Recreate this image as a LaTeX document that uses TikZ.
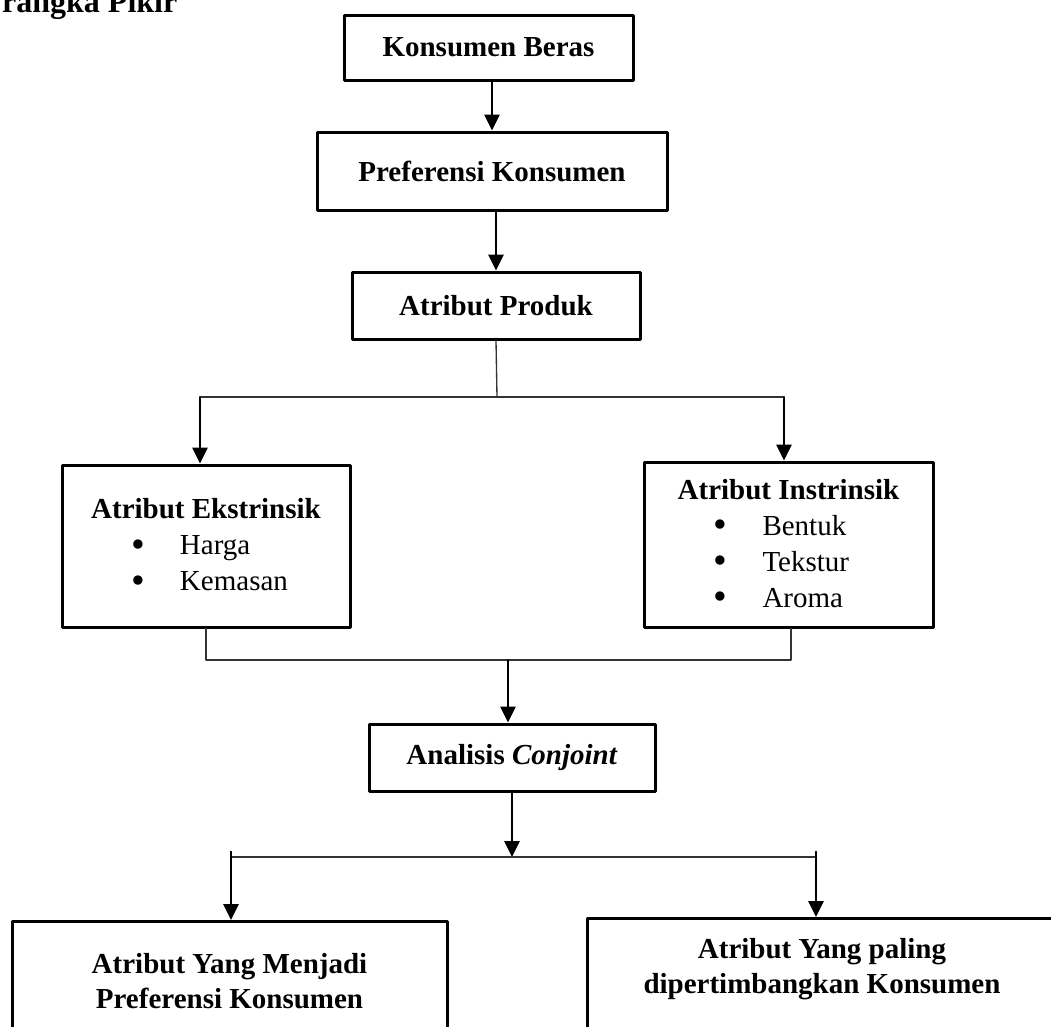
\documentclass[tikz,border=0pt]{standalone}
\usepackage{fontspec}
\setmainfont{Liberation Serif}
\usetikzlibrary{arrows.meta,calc}
\newcommand{\butir}[1]{\makebox[150pt][l]{\hspace{24pt}\makebox[0pt]{\raisebox{-2pt}{\scalebox{1.35}{\textbullet}}}\hspace{31.5pt}#1}}
\begin{document}
\begin{tikzpicture}[line cap=round,line join=round,>={Triangle[length=12pt,width=11.5pt]},x=0.75pt,y=-0.75pt,
kotak/.style={draw,line width=2.25pt,inner sep=0pt,align=center,font=\bfseries\fontsize{21.75}{27}\selectfont},
daftar/.style={draw,line width=2.25pt,inner sep=0pt,align=center,font=\fontsize{21.75}{27}\selectfont},
hasil/.style={draw,line width=2.25pt,inner sep=0pt,align=center,anchor=north,text depth=100pt,font=\bfseries\fontsize{21.75}{26.25}\selectfont},
panah/.style={->,line width=1.5pt},
garis/.style={line width=1pt,black!80}]
\useasboundingbox (0,0) rectangle (1051,1026);
\node[anchor=base east,font=\bfseries\fontsize{24}{28}\selectfont] (judul) at (182,12) {rangka Pikir};
\node[kotak,minimum width=216.75pt,minimum height=48.75pt] (kb) at (488.5,47.5) {Konsumen Beras};
\node[kotak,minimum width=262.5pt,minimum height=58.5pt] (pk) at (492,171) {Preferensi Konsumen};
\node[kotak,minimum width=216pt,minimum height=50.25pt] (ap) at (496,305.5) {Atribut Produk};
\node[daftar,minimum width=216pt,minimum height=121.5pt] (ek) at (206,546) {\textbf{Atribut Ekstrinsik}\\\butir{Harga}\\\butir{Kemasan}};
\node[daftar,minimum width=216.75pt,minimum height=123.75pt] (in) at (788.5,544.5) {\textbf{Atribut Instrinsik}\\\butir{Bentuk}\\\butir{Tekstur}\\\butir{Aroma}};
\node[kotak,minimum width=214.5pt,minimum height=50.25pt] (ac) at (512,757.5) {Analisis \textit{Conjoint}};
\node[hasil,minimum width=326.25pt,text height=64.9pt] (pr) at (229.5,920) {Atribut Yang Menjadi\\Preferensi Konsumen};
\node[hasil,minimum width=352.5pt,text height=55.9pt] (pt) at (822,917) {Atribut Yang paling\\dipertimbangkan Konsumen};
\coordinate (cab) at (497,397);
\coordinate (kiri1) at (200,397);
\coordinate (kanan1) at (784,397);
\coordinate (kiri2) at (206,660);
\coordinate (kanan2) at (791,660);
\coordinate (tengah2) at (508,660);
\coordinate (tengah3) at (512,857);
\coordinate (kiri3) at (231,857);
\coordinate (kanan3) at (816,857);
\draw[panah] (pk.north |- kb.south) -- (pk.north);
\draw[panah] (ap.north |- pk.south) -- (ap.north);
\draw[garis] (ap.south) -- (cab);
\draw[garis] (kiri1) -- (kanan1);
\draw[panah] (kiri1) -- (kiri1 |- ek.north);
\draw[panah] (kanan1) -- (kanan1 |- in.north);
\draw[garis] (kiri2 |- ek.south) -- (kiri2) -- (kanan2) -- (kanan2 |- in.south);
\draw[panah] (tengah2) -- (tengah2 |- ac.north);
\draw[panah] (ac.south) -- (tengah3);
\draw[garis] (kiri3) -- (kanan3);
\draw[panah] ([yshift=4pt]kiri3) -- (kiri3 |- pr.north);
\draw[panah] ([yshift=4pt]kanan3) -- (kanan3 |- pt.north);
\end{tikzpicture}
\end{document}
